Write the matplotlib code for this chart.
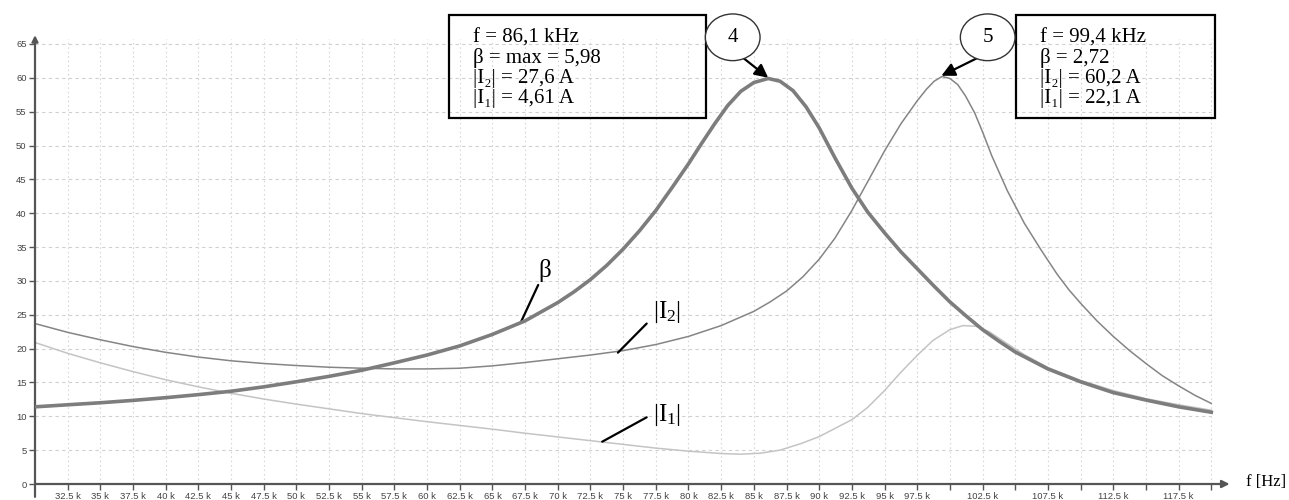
import matplotlib
matplotlib.use("Agg")
import matplotlib.pyplot as plt
from matplotlib.patches import Rectangle, Ellipse

plt.rcParams['mathtext.fontset'] = 'custom'
plt.rcParams['mathtext.rm'] = 'Liberation Serif'
plt.rcParams['mathtext.default'] = 'rm'

# frequencies in kHz (beta scaled x10)
f_beta = [30, 32.5, 35, 37.5, 40, 42.5, 45, 47.5, 50, 52.5, 55, 57.5, 60, 62.5, 65,
          67.5, 70, 71.25, 72.5, 73.75, 75, 76.25, 77.5, 78.75, 80, 81, 82, 83, 84, 85,
          86.1, 87, 88, 89, 90, 91.2, 92.5, 93.7, 95, 96.25, 97.5, 98.75, 100, 101.25,
          102.5, 103.75, 105, 107.5, 110, 112.5, 115, 117.5, 120]
beta = [11.4, 11.7, 12.0, 12.35, 12.75, 13.2, 13.7, 14.35, 15.1, 15.9, 16.8, 17.9, 19.05, 20.4, 22.1,
        24.1, 26.8, 28.4, 30.2, 32.3, 34.7, 37.4, 40.4, 43.8, 47.3, 50.3, 53.2, 55.9, 58.0, 59.3,
        59.9, 59.5, 58.1, 55.7, 52.6, 48.2, 43.7, 40.2, 37.1, 34.3, 31.8, 29.3, 26.9, 24.8,
        22.8, 21.1, 19.5, 17.0, 15.1, 13.5, 12.4, 11.4, 10.6]

f_i2 = [30, 32.5, 35, 37.5, 40, 42.5, 45, 47.5, 50, 52.5, 55, 57.5, 60, 62.5, 65,
        67.5, 70, 72.5, 75, 77.5, 80, 82.5, 85, 86.25, 87.5, 88.75, 90, 91.2, 92.5, 93.75,
        95, 96.25, 97.5, 98.2, 98.8, 99.4, 100, 100.6, 101.2, 101.9, 102.5, 103.2, 103.8,
        104.4, 105.7, 107, 108.2, 109.1, 110, 111.25, 112.5, 113.75, 115, 116.25, 117.5,
        118.75, 120]
i2 = [23.7, 22.4, 21.3, 20.3, 19.45, 18.75, 18.2, 17.8, 17.5, 17.25, 17.1, 17.0, 17.0, 17.1, 17.45,
      17.95, 18.5, 19.05, 19.7, 20.6, 21.8, 23.4, 25.5, 26.9, 28.5, 30.6, 33.2, 36.3, 40.4, 44.8,
      49.2, 53.2, 56.6, 58.3, 59.5, 60.2, 59.9, 59.0, 57.3, 54.8, 52.0, 48.5, 45.9,
      43.3, 38.5, 34.5, 31.0, 28.7, 26.7, 24.1, 21.8, 19.7, 17.8, 16.0, 14.5,
      13.1, 11.9]

f_i1 = [30, 32.5, 35, 37.5, 40, 42.5, 45, 47.5, 50, 52.5, 55, 57.5, 60, 62.5, 65,
        67.5, 70, 72.5, 75, 77.5, 80, 82.5, 84, 85.5, 87, 88.65, 90, 91.2, 92.5, 93.7,
        95, 96.2, 97.5, 98.7, 100, 101, 102, 103, 104.4, 105.7, 107.5, 110, 112.5, 115,
        117.5, 120]
i1 = [20.9, 19.3, 17.9, 16.6, 15.4, 14.35, 13.4, 12.55, 11.8, 11.1, 10.4, 9.8, 9.2, 8.65, 8.1,
      7.5, 6.95, 6.4, 5.85, 5.3, 4.85, 4.5, 4.4, 4.55, 5.0, 6.0, 7.0, 8.2, 9.5, 11.3,
      13.8, 16.4, 19.0, 21.2, 22.8, 23.4, 23.3, 22.5, 20.7, 19.1, 17.2, 15.3, 13.8, 12.6,
      11.7, 10.9]

x_ticks = [32.5 + 2.5 * i for i in range(36)]
x_labels = ['32.5 k', '35 k', '37.5 k', '40 k', '42.5 k', '45 k', '47.5 k', '50 k', '52.5 k',
            '55 k', '57.5 k', '60 k', '62.5 k', '65 k', '67.5 k', '70 k', '72.5 k', '75 k',
            '77.5 k', '80 k', '82.5 k', '85 k', '87.5 k', '90 k', '92.5 k', '95 k', '97.5 k',
            '', '102.5 k', '', '107.5 k', '', '112.5 k', '', '117.5 k', '']
y_ticks = list(range(0, 70, 5))

box4 = ["f = 86,1 kHz", "β = max = 5,98", "|I₂| = 27,6 A", "|I₁| = 4,61 A"]
box5 = ["f = 99,4 kHz", "β = 2,72", "|I₂| = 60,2 A", "|I₁| = 22,1 A"]

fig = plt.figure(figsize=(12.89, 5), dpi=100)
ax = fig.add_axes([35 / 1289, 16 / 500, 1195.9 / 1289, 450.2 / 500])
ax.set_xlim(30, 121.5)
ax.set_ylim(0, 66.5)
for s in ax.spines.values():
    s.set_visible(False)

# grid
ax.hlines(y_ticks[1:], 30, 120, colors='#d0d0d0', lw=0.8, linestyles=(0, (3, 3)), zorder=0)
ax.vlines(x_ticks, 0, 65.8, colors='#d8d8d8', lw=0.8, linestyles=(0, (1.5, 2.5)), zorder=0)

# curves
ax.plot(f_i1, i1, color='#c4c4c4', lw=1.1, zorder=2)
ax.plot(f_i2, i2, color='#858585', lw=1.1, zorder=3)
ax.plot(f_beta, beta, color='#7d7d7d', lw=2.6, zorder=4)

# axes with arrows
ax.annotate('', xy=(121.4, 0), xytext=(30, 0), annotation_clip=False,
            arrowprops=dict(arrowstyle='-|>', color='#555555', lw=1.6,
                            mutation_scale=11, shrinkA=0, shrinkB=0))
ax.annotate('', xy=(30, 66.3), xytext=(30, -1.9), annotation_clip=False,
            arrowprops=dict(arrowstyle='-|>', color='#555555', lw=1.6,
                            mutation_scale=9, shrinkA=0, shrinkB=0))

ax.set_xticks(x_ticks)
ax.set_xticklabels(x_labels)
ax.set_yticks(y_ticks)
ax.tick_params(direction='out', length=4, width=1, color='#555555', labelsize=6.8,
               labelcolor='#444444', pad=2)
for lab in ax.get_xticklabels() + ax.get_yticklabels():
    lab.set_family('Liberation Sans')

fig.text(1246 / 1289, 18 / 500, 'f [Hz]', family='Liberation Serif', fontsize=12,
         ha='left', va='center')

# curve labels with leader lines
serif = ['Liberation Serif', 'DejaVu Serif']
ax.text(69.0, 31.6, 'β', family=serif, fontsize=18, ha='center', va='center')
ax.annotate('', xy=(67.15, 23.8), xytext=(68.5, 29.4),
            arrowprops=dict(arrowstyle='-', color='black', lw=1.6, shrinkA=0, shrinkB=0))
ax.text(78.35, 25.4, r'$|\mathrm{I}_2|$', fontsize=18, ha='center', va='center')
ax.annotate('', xy=(74.6, 19.4), xytext=(76.8, 23.7),
            arrowprops=dict(arrowstyle='-', color='black', lw=1.6, shrinkA=0, shrinkB=0))
ax.text(78.35, 10.2, r'$|\mathrm{I}_1|$', fontsize=18, ha='center', va='center')
ax.annotate('', xy=(73.4, 6.25), xytext=(76.8, 9.85),
            arrowprops=dict(arrowstyle='-', color='black', lw=1.6, shrinkA=0, shrinkB=0))

# info boxes
W, H = 1289.0, 500.0
for (x0, x1, tx, lines) in [(449.3, 705.7, 473.3, box4), (1016, 1215.3, 1040, box5)]:
    fig.add_artist(Rectangle((x0 / W, 1 - 118.3 / H), (x1 - x0) / W, 103.3 / H,
                             fill=False, ec='black', lw=1.6))
    for k, line in enumerate(lines):
        fig.text(tx / W, 1 - (42.7 + 20 * k) / H, line, family=serif, fontsize=15,
                 ha='left', va='baseline')

for cx, num in [(732.7, '4'), (987.7, '5')]:
    fig.add_artist(Ellipse((cx / W, 1 - 37.3 / H), 54.7 / W, 46.7 / H,
                           fill=True, fc='white', ec='#333333', lw=1.0))
    fig.text(cx / W, 1 - 37.3 / H, num, family=serif, fontsize=15, ha='center', va='center')

ax.annotate('', xy=(86.1, 60.0), xycoords='data', xytext=(741.7, 443.3),
            textcoords='figure pixels', annotation_clip=False,
            arrowprops=dict(arrowstyle='-|>', color='black', lw=1.6, mutation_scale=20,
                            shrinkA=0, shrinkB=0))
ax.annotate('', xy=(99.35, 60.3), xycoords='data', xytext=(980, 443.3),
            textcoords='figure pixels', annotation_clip=False,
            arrowprops=dict(arrowstyle='-|>', color='black', lw=1.6, mutation_scale=20,
                            shrinkA=0, shrinkB=0))

fig.savefig('out.png', dpi=100)
